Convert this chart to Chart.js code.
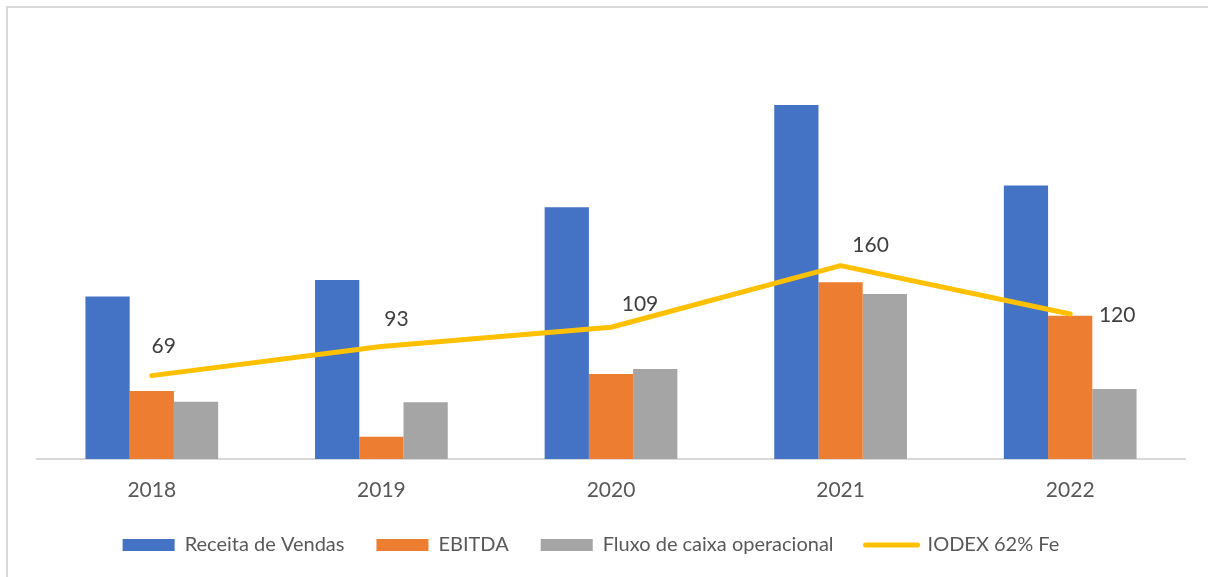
<!DOCTYPE html>
<html>
<head>
<meta charset="utf-8">
<script src="https://cdn.jsdelivr.net/npm/chart.js@4/dist/chart.umd.min.js"></script>
<style>
  html, body { margin: 0; padding: 0; background: #ffffff; }
  #moldura {
    position: absolute; left: 6px; top: 6px; width: 1220px; height: 600px;
    border-left: 2px solid #d9d9d9; border-top: 2px solid #d9d9d9;
  }
  #grafico { position: absolute; left: 0; top: 0; }
</style>
</head>
<body>
<div id="moldura"></div>
<canvas id="grafico" width="1208" height="577"></canvas>
<script>
// dados (R$ bilhões / US$ por tonelada)
var anos = ['2018', '2019', '2020', '2021', '2022'];
var receita = [134.4, 148.2, 208.4, 293.0, 226.3];
var ebitda = [56.3, 18.5, 70.4, 146.3, 118.6];
var fluxoCaixa = [47.4, 46.9, 74.5, 136.6, 58.0];
var iodex = [69, 93, 109, 160, 120];

// deslocamento dos rótulos da linha (x, y) em relação ao ponto
var deslocRotulos = [[12, -29], [15, -27], [29, -23], [30, -20], [47, 1]];

var fonte = 'Lato, "Liberation Sans", sans-serif';

// rótulos de dados da linha IODEX
var rotulosLinha = {
    id: 'rotulosLinha',
    afterDatasetsDraw: function (chart) {
        var meta = chart.getDatasetMeta(3);
        var ctx = chart.ctx;
        ctx.save();
        ctx.font = '21px ' + fonte;
        ctx.fillStyle = '#404040';
        ctx.textAlign = 'center';
        ctx.textBaseline = 'middle';
        meta.data.forEach(function (ponto, i) {
            ctx.fillText(String(iodex[i]), ponto.x + deslocRotulos[i][0], ponto.y + deslocRotulos[i][1]);
        });
        ctx.restore();
    }
};

// a legenda do original fica um pouco à esquerda do centro
var legendaEsquerda = {
    id: 'legendaEsquerda',
    afterLayout: function (chart) {
        chart.legend.left -= 20;
        chart.legend.right -= 20;
    }
};

new Chart(document.getElementById('grafico'), {
    type: 'bar',
    data: {
        labels: anos,
        datasets: [{
            label: 'Receita de Vendas',
            data: receita,
            backgroundColor: '#4472c4',
            borderWidth: 0,
            order: 2
        }, {
            label: 'EBITDA',
            data: ebitda,
            backgroundColor: '#ed7d31',
            borderWidth: 0,
            order: 2
        }, {
            label: 'Fluxo de caixa operacional',
            data: fluxoCaixa,
            backgroundColor: '#a5a5a5',
            borderWidth: 0,
            order: 2
        }, {
            type: 'line',
            label: 'IODEX 62% Fe',
            data: iodex,
            borderColor: '#ffc000',
            backgroundColor: '#ffc000',
            borderWidth: 5,
            borderCapStyle: 'round',
            borderJoinStyle: 'round',
            pointRadius: 0,
            pointHoverRadius: 0,
            tension: 0,
            order: 1
        }]
    },
    options: {
        responsive: false,
        animation: false,
        events: [],
        layout: {
            padding: { top: 36, left: 37, right: 23, bottom: 12 }
        },
        datasets: {
            bar: {
                barPercentage: 1,
                categoryPercentage: 0.578
            }
        },
        plugins: {
            tooltip: { enabled: false },
            legend: {
                position: 'bottom',
                labels: {
                    usePointStyle: true,
                    pointStyleWidth: 52,
                    boxHeight: 12,
                    padding: 32,
                    color: '#595959',
                    font: { family: fonte, size: 20 },
                    sort: function (a, b) { return a.datasetIndex - b.datasetIndex; },
                    generateLabels: function (chart) {
                        var itens = Chart.defaults.plugins.legend.labels.generateLabels(chart);
                        itens.forEach(function (item) {
                            if (item.datasetIndex === 3) {
                                item.pointStyle = 'line';
                                item.lineWidth = 5;
                                item.lineCap = 'round';
                                item.strokeStyle = '#ffc000';
                            } else {
                                item.pointStyle = 'rect';
                                item.lineWidth = 0;
                            }
                        });
                        return itens;
                    }
                }
            }
        },
        scales: {
            x: {
                grid: { display: false },
                border: { display: true, color: '#d9d9d9', width: 2 },
                ticks: {
                    color: '#595959',
                    padding: 11,
                    font: { family: fonte, size: 21 }
                },
                afterFit: function (escala) {
                    escala.height = 44;
                }
            },
            y: {
                display: false,
                min: 0,
                max: 350
            }
        }
    },
    plugins: [rotulosLinha, legendaEsquerda]
});
</script>
</body>
</html>
